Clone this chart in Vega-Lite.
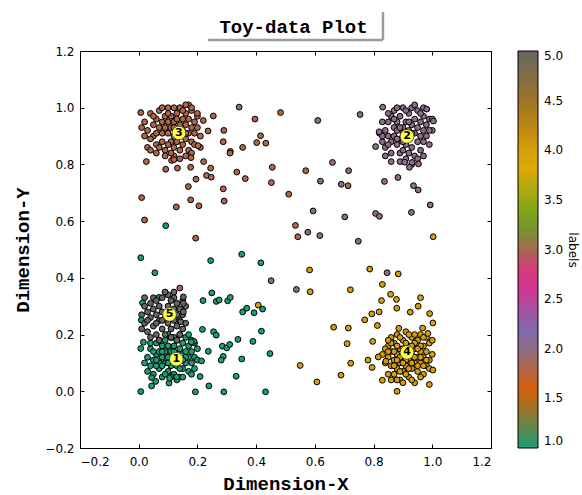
{
  "$schema": "https://vega.github.io/schema/vega-lite/v6.json",
  "width": 411,
  "height": 397,
  "autosize": "none",
  "padding": {"left": 80, "top": 51, "right": 91, "bottom": 47},
  "background": "white",
  "title": {"text": "Toy-data Plot", "font": "Liberation Mono", "fontSize": 19, "fontWeight": "bold", "color": "black", "anchor": "middle", "offset": -26, "dx": 8},
  "config": {
    "view": {"stroke": "black", "strokeWidth": 1},
    "axis": {"grid": false, "domain": false, "tickColor": "black", "tickSize": -4, "tickWidth": 1, "labelFont": "DejaVu Sans", "labelFontSize": 12, "labelColor": "black", "titleFont": "Liberation Mono", "titleFontSize": 19, "titleFontWeight": "bold", "titleColor": "black"}
  },
  "datasets": {
    "pts": [
      {"x":0.02,"y":0.95,"c":1.8},{"x":0.03,"y":0.92,"c":1.8},{"x":0.04,"y":0.98,"c":1.8},{"x":0.05,"y":0.94,"c":1.8},{"x":0.05,"y":0.90,"c":1.8},{"x":0.06,"y":0.96,"c":1.8},{"x":0.06,"y":0.87,"c":1.8},{"x":0.07,"y":0.93,"c":1.8},{"x":0.07,"y":0.99,"c":1.8},{"x":0.08,"y":0.91,"c":1.8},{"x":0.08,"y":0.95,"c":1.8},{"x":0.08,"y":0.88,"c":1.8},{"x":0.09,"y":0.97,"c":1.8},{"x":0.09,"y":0.93,"c":1.8},{"x":0.09,"y":0.85,"c":1.8},{"x":0.10,"y":0.91,"c":1.8},{"x":0.10,"y":0.95,"c":1.8},{"x":0.10,"y":1.00,"c":1.8},{"x":0.11,"y":0.88,"c":1.8},{"x":0.11,"y":0.93,"c":1.8},{"x":0.11,"y":0.97,"c":1.8},{"x":0.12,"y":0.90,"c":1.8},{"x":0.12,"y":0.95,"c":1.8},{"x":0.12,"y":0.86,"c":1.8},{"x":0.13,"y":0.98,"c":1.8},{"x":0.13,"y":0.92,"c":1.8},{"x":0.13,"y":0.88,"c":1.8},{"x":0.14,"y":0.94,"c":1.8},{"x":0.14,"y":0.90,"c":1.8},{"x":0.14,"y":1.00,"c":1.8},{"x":0.15,"y":0.96,"c":1.8},{"x":0.15,"y":0.87,"c":1.8},{"x":0.15,"y":0.92,"c":1.8},{"x":0.16,"y":0.98,"c":1.8},{"x":0.16,"y":0.94,"c":1.8},{"x":0.16,"y":0.89,"c":1.8},{"x":0.17,"y":0.96,"c":1.8},{"x":0.17,"y":0.91,"c":1.8},{"x":0.17,"y":1.01,"c":1.8},{"x":0.18,"y":0.93,"c":1.8},{"x":0.18,"y":0.88,"c":1.8},{"x":0.18,"y":0.99,"c":1.8},{"x":0.19,"y":0.95,"c":1.8},{"x":0.19,"y":0.91,"c":1.8},{"x":0.20,"y":0.97,"c":1.8},{"x":0.20,"y":0.93,"c":1.8},{"x":0.16,"y":1.01,"c":1.8},{"x":0.12,"y":1.00,"c":1.8},{"x":0.10,"y":0.98,"c":1.8},{"x":0.04,"y":0.89,"c":1.8},{"x":0.03,"y":0.86,"c":1.8},{"x":0.06,"y":0.84,"c":1.8},{"x":0.09,"y":0.83,"c":1.8},{"x":0.12,"y":0.83,"c":1.8},{"x":0.14,"y":0.85,"c":1.8},{"x":0.17,"y":0.85,"c":1.8},{"x":0.19,"y":0.87,"c":1.8},{"x":0.21,"y":0.90,"c":1.8},{"x":0.11,"y":0.84,"c":1.8},{"x":0.07,"y":0.86,"c":1.8},{"x":0.05,"y":0.97,"c":1.8},{"x":0.15,"y":0.99,"c":1.8},{"x":0.13,"y":0.96,"c":1.8},{"x":0.08,"y":1.00,"c":1.8},{"x":0.18,"y":1.00,"c":1.8},{"x":0.20,"y":0.98,"c":1.8},{"x":0.02,"y":0.90,"c":1.8},{"x":0.01,"y":0.93,"c":1.8},{"x":0.04,"y":0.85,"c":1.8},{"x":0.10,"y":0.87,"c":1.8},{"x":0.16,"y":0.83,"c":1.8},{"x":0.18,"y":0.84,"c":1.8},{"x":0.14,"y":0.82,"c":1.8},{"x":0.21,"y":0.86,"c":1.8},{"x":0.06,"y":0.91,"c":1.8},{"x":0.12,"y":0.93,"c":1.8},{"x":0.16,"y":0.91,"c":1.8},
      {"x":0.007,"y":0.983,"c":1.8},{"x":0.026,"y":0.810,"c":1.8},{"x":0.112,"y":0.814,"c":1.8},{"x":0.120,"y":0.817,"c":1.8},{"x":0.092,"y":0.783,"c":1.8},{"x":0.132,"y":0.787,"c":1.8},{"x":0.178,"y":0.824,"c":1.8},{"x":0.177,"y":0.790,"c":1.8},{"x":0.195,"y":0.748,"c":1.8},{"x":0.169,"y":0.722,"c":1.8},{"x":0.236,"y":0.918,"c":1.8},{"x":0.254,"y":0.971,"c":1.8},{"x":0.220,"y":0.955,"c":1.8},{"x":0.290,"y":0.920,"c":1.8},{"x":0.288,"y":0.880,"c":1.8},{"x":0.202,"y":0.866,"c":1.8},{"x":0.221,"y":0.810,"c":1.8},{"x":0.245,"y":0.787,"c":1.8},{"x":0.231,"y":0.761,"c":1.8},{"x":0.247,"y":0.755,"c":1.8},{"x":0.177,"y":0.675,"c":1.8},{"x":0.205,"y":0.654,"c":1.8},{"x":0.288,"y":0.714,"c":1.8},{"x":0.291,"y":0.671,"c":1.8},{"x":0.194,"y":0.540,"c":1.8},{"x":0.312,"y":0.846,"c":1.8},{"x":0.311,"y":0.840,"c":1.8},{"x":0.354,"y":0.860,"c":1.8},{"x":0.334,"y":0.773,"c":1.8},{"x":0.363,"y":0.750,"c":1.8},{"x":0.396,"y":0.960,"c":1.8},{"x":0.415,"y":0.901,"c":1.8},{"x":0.402,"y":0.877,"c":1.8},{"x":0.433,"y":0.875,"c":1.8},{"x":0.483,"y":0.983,"c":1.8},{"x":0.455,"y":0.790,"c":1.8},{"x":0.452,"y":0.736,"c":1.8},{"x":0.511,"y":0.695,"c":1.8},{"x":0.569,"y":0.778,"c":1.8},{"x":0.713,"y":0.725,"c":1.8},{"x":0.534,"y":0.585,"c":1.8},{"x":0.542,"y":0.545,"c":1.8},{"x":0.010,"y":0.683,"c":1.8},{"x":0.128,"y":0.650,"c":1.8},{"x":0.020,"y":0.604,"c":1.8},{"x":0.140,"y":0.364,"c":1.8},
      {"x":0.83,"y":0.88,"c":2},{"x":0.84,"y":0.92,"c":2},{"x":0.84,"y":0.86,"c":2},{"x":0.85,"y":0.95,"c":2},{"x":0.85,"y":0.90,"c":2},{"x":0.86,"y":0.88,"c":2},{"x":0.86,"y":0.97,"c":2},{"x":0.86,"y":0.84,"c":2},{"x":0.87,"y":0.93,"c":2},{"x":0.87,"y":0.90,"c":2},{"x":0.87,"y":0.99,"c":2},{"x":0.88,"y":0.87,"c":2},{"x":0.88,"y":0.95,"c":2},{"x":0.88,"y":0.92,"c":2},{"x":0.89,"y":0.89,"c":2},{"x":0.89,"y":0.97,"c":2},{"x":0.89,"y":0.84,"c":2},{"x":0.90,"y":0.93,"c":2},{"x":0.90,"y":0.91,"c":2},{"x":0.90,"y":1.00,"c":2},{"x":0.91,"y":0.87,"c":2},{"x":0.91,"y":0.95,"c":2},{"x":0.91,"y":0.82,"c":2},{"x":0.92,"y":0.92,"c":2},{"x":0.92,"y":0.98,"c":2},{"x":0.92,"y":0.89,"c":2},{"x":0.93,"y":0.94,"c":2},{"x":0.93,"y":0.86,"c":2},{"x":0.93,"y":1.00,"c":2},{"x":0.94,"y":0.91,"c":2},{"x":0.94,"y":0.96,"c":2},{"x":0.94,"y":0.83,"c":2},{"x":0.95,"y":0.88,"c":2},{"x":0.95,"y":0.93,"c":2},{"x":0.95,"y":0.99,"c":2},{"x":0.96,"y":0.90,"c":2},{"x":0.96,"y":0.95,"c":2},{"x":0.96,"y":0.85,"c":2},{"x":0.97,"y":0.92,"c":2},{"x":0.97,"y":0.97,"c":2},{"x":0.97,"y":0.88,"c":2},{"x":0.98,"y":0.94,"c":2},{"x":0.98,"y":0.90,"c":2},{"x":0.99,"y":0.96,"c":2},{"x":0.99,"y":0.87,"c":2},{"x":1.00,"y":0.92,"c":2},{"x":0.82,"y":0.91,"c":2},{"x":0.83,"y":0.95,"c":2},{"x":0.85,"y":0.98,"c":2},{"x":0.88,"y":1.00,"c":2},{"x":0.90,"y":0.85,"c":2},{"x":0.92,"y":0.84,"c":2},{"x":0.95,"y":0.82,"c":2},{"x":0.93,"y":0.80,"c":2},{"x":0.89,"y":0.81,"c":2},{"x":0.86,"y":0.81,"c":2},{"x":0.84,"y":0.83,"c":2},{"x":0.97,"y":0.83,"c":2},{"x":0.99,"y":0.92,"c":2},{"x":1.00,"y":0.96,"c":2},{"x":0.91,"y":0.99,"c":2},{"x":0.94,"y":1.01,"c":2},{"x":0.87,"y":0.96,"c":2},{"x":0.90,"y":0.88,"c":2},{"x":0.92,"y":0.95,"c":2},{"x":0.88,"y":0.89,"c":2},{"x":0.96,"y":0.98,"c":2},{"x":0.85,"y":0.87,"c":2},{"x":0.93,"y":0.91,"c":2},{"x":0.97,"y":1.00,"c":2},{"x":0.89,"y":0.93,"c":2},{"x":0.83,"y":0.90,"c":2},
      {"x":0.831,"y":1.002,"c":2},{"x":0.754,"y":0.976,"c":2},{"x":0.807,"y":0.863,"c":2},{"x":0.837,"y":0.740,"c":2},{"x":0.883,"y":0.754,"c":2},{"x":0.936,"y":0.725,"c":2},{"x":0.906,"y":0.808,"c":2},{"x":0.931,"y":0.807,"c":2},{"x":0.922,"y":0.790,"c":2},{"x":0.953,"y":0.802,"c":2},{"x":1.004,"y":0.953,"c":2},{"x":0.981,"y":0.995,"c":2},{"x":0.952,"y":0.710,"c":2},{"x":0.993,"y":0.657,"c":2},{"x":0.929,"y":0.631,"c":2},{"x":0.819,"y":0.915,"c":2},{"x":0.342,"y":1.002,"c":2},{"x":0.610,"y":0.955,"c":2},{"x":0.660,"y":0.807,"c":2},{"x":0.715,"y":0.778,"c":2},{"x":0.619,"y":0.741,"c":2},{"x":0.690,"y":0.730,"c":2},{"x":0.594,"y":0.636,"c":2},{"x":0.702,"y":0.615,"c":2},{"x":0.807,"y":0.627,"c":2},{"x":0.820,"y":0.617,"c":2},{"x":0.576,"y":0.561,"c":2},{"x":0.617,"y":0.549,"c":2},{"x":0.748,"y":0.529,"c":2},{"x":0.451,"y":0.390,"c":2},{"x":0.537,"y":0.359,"c":2},{"x":0.846,"y":0.418,"c":2},
      {"x":0.85,"y":0.12,"c":4},{"x":0.85,"y":0.16,"c":4},{"x":0.86,"y":0.09,"c":4},{"x":0.86,"y":0.14,"c":4},{"x":0.86,"y":0.19,"c":4},{"x":0.87,"y":0.11,"c":4},{"x":0.87,"y":0.06,"c":4},{"x":0.87,"y":0.17,"c":4},{"x":0.88,"y":0.13,"c":4},{"x":0.88,"y":0.08,"c":4},{"x":0.88,"y":0.20,"c":4},{"x":0.89,"y":0.15,"c":4},{"x":0.89,"y":0.10,"c":4},{"x":0.89,"y":0.04,"c":4},{"x":0.90,"y":0.12,"c":4},{"x":0.90,"y":0.18,"c":4},{"x":0.90,"y":0.07,"c":4},{"x":0.91,"y":0.14,"c":4},{"x":0.91,"y":0.09,"c":4},{"x":0.91,"y":0.21,"c":4},{"x":0.92,"y":0.11,"c":4},{"x":0.92,"y":0.16,"c":4},{"x":0.92,"y":0.05,"c":4},{"x":0.93,"y":0.13,"c":4},{"x":0.93,"y":0.19,"c":4},{"x":0.93,"y":0.08,"c":4},{"x":0.94,"y":0.10,"c":4},{"x":0.94,"y":0.15,"c":4},{"x":0.94,"y":0.03,"c":4},{"x":0.95,"y":0.12,"c":4},{"x":0.95,"y":0.18,"c":4},{"x":0.95,"y":0.07,"c":4},{"x":0.96,"y":0.14,"c":4},{"x":0.96,"y":0.10,"c":4},{"x":0.96,"y":0.20,"c":4},{"x":0.97,"y":0.12,"c":4},{"x":0.97,"y":0.16,"c":4},{"x":0.97,"y":0.06,"c":4},{"x":0.98,"y":0.09,"c":4},{"x":0.98,"y":0.14,"c":4},{"x":0.99,"y":0.11,"c":4},{"x":0.99,"y":0.17,"c":4},{"x":1.00,"y":0.13,"c":4},{"x":0.84,"y":0.10,"c":4},{"x":0.84,"y":0.15,"c":4},{"x":0.85,"y":0.06,"c":4},{"x":0.87,"y":0.14,"c":4},{"x":0.88,"y":0.16,"c":4},{"x":0.89,"y":0.12,"c":4},{"x":0.90,"y":0.15,"c":4},{"x":0.91,"y":0.11,"c":4},{"x":0.92,"y":0.13,"c":4},{"x":0.93,"y":0.10,"c":4},{"x":0.94,"y":0.17,"c":4},{"x":0.95,"y":0.09,"c":4},{"x":0.96,"y":0.16,"c":4},{"x":0.97,"y":0.09,"c":4},{"x":0.90,"y":0.03,"c":4},{"x":0.88,"y":0.04,"c":4},{"x":0.93,"y":0.04,"c":4},{"x":0.86,"y":0.04,"c":4},{"x":0.99,"y":0.08,"c":4},{"x":1.00,"y":0.18,"c":4},{"x":0.98,"y":0.19,"c":4},{"x":0.92,"y":0.20,"c":4},{"x":0.89,"y":0.19,"c":4},{"x":0.86,"y":0.17,"c":4},{"x":0.94,"y":0.20,"c":4},{"x":0.96,"y":0.05,"c":4},{"x":0.91,"y":0.06,"c":4},{"x":0.87,"y":0.09,"c":4},{"x":0.83,"y":0.13,"c":4},{"x":0.85,"y":0.18,"c":4},{"x":0.90,"y":0.10,"c":4},{"x":0.92,"y":0.08,"c":4},{"x":0.95,"y":0.15,"c":4},{"x":0.97,"y":0.19,"c":4},{"x":0.98,"y":0.11,"c":4},{"x":0.93,"y":0.16,"c":4},{"x":0.88,"y":0.11,"c":4},{"x":0.91,"y":0.17,"c":4},{"x":0.94,"y":0.12,"c":4},{"x":0.89,"y":0.07,"c":4},{"x":0.96,"y":0.12,"c":4},{"x":0.85,"y":0.14,"c":4},
      {"x":0.407,"y":0.304,"c":4},{"x":0.582,"y":0.428,"c":4},{"x":0.584,"y":0.351,"c":4},{"x":0.721,"y":0.358,"c":4},{"x":0.787,"y":0.431,"c":4},{"x":0.884,"y":0.414,"c":4},{"x":0.830,"y":0.377,"c":4},{"x":0.858,"y":0.342,"c":4},{"x":0.827,"y":0.320,"c":4},{"x":0.878,"y":0.324,"c":4},{"x":0.819,"y":0.280,"c":4},{"x":0.794,"y":0.273,"c":4},{"x":0.770,"y":0.252,"c":4},{"x":0.813,"y":0.232,"c":4},{"x":0.879,"y":0.293,"c":4},{"x":0.664,"y":0.226,"c":4},{"x":0.714,"y":0.223,"c":4},{"x":0.710,"y":0.168,"c":4},{"x":0.797,"y":0.176,"c":4},{"x":0.781,"y":0.110,"c":4},{"x":0.795,"y":0.084,"c":4},{"x":0.722,"y":0.099,"c":4},{"x":0.550,"y":0.091,"c":4},{"x":0.689,"y":0.057,"c":4},{"x":0.607,"y":0.033,"c":4},{"x":0.830,"y":0.039,"c":4},{"x":0.816,"y":0.121,"c":4},{"x":0.842,"y":0.106,"c":4},{"x":0.960,"y":0.330,"c":4},{"x":0.952,"y":0.300,"c":4},{"x":0.991,"y":0.274,"c":4},{"x":1.002,"y":0.241,"c":4},{"x":0.925,"y":0.279,"c":4},{"x":0.886,"y":0.222,"c":4},{"x":0.967,"y":0.223,"c":4},{"x":0.985,"y":0.204,"c":4},{"x":1.002,"y":0.075,"c":4},{"x":0.990,"y":0.024,"c":4},{"x":0.880,"y":0.000,"c":4},{"x":1.003,"y":0.545,"c":4},
      {"x":0.03,"y":0.12,"c":1},{"x":0.04,"y":0.09,"c":1},{"x":0.04,"y":0.15,"c":1},{"x":0.05,"y":0.11,"c":1},{"x":0.05,"y":0.06,"c":1},{"x":0.06,"y":0.13,"c":1},{"x":0.06,"y":0.17,"c":1},{"x":0.07,"y":0.10,"c":1},{"x":0.07,"y":0.08,"c":1},{"x":0.07,"y":0.14,"c":1},{"x":0.08,"y":0.12,"c":1},{"x":0.08,"y":0.16,"c":1},{"x":0.08,"y":0.05,"c":1},{"x":0.09,"y":0.10,"c":1},{"x":0.09,"y":0.14,"c":1},{"x":0.09,"y":0.18,"c":1},{"x":0.10,"y":0.07,"c":1},{"x":0.10,"y":0.12,"c":1},{"x":0.10,"y":0.16,"c":1},{"x":0.11,"y":0.09,"c":1},{"x":0.11,"y":0.14,"c":1},{"x":0.11,"y":0.19,"c":1},{"x":0.12,"y":0.11,"c":1},{"x":0.12,"y":0.06,"c":1},{"x":0.12,"y":0.16,"c":1},{"x":0.13,"y":0.13,"c":1},{"x":0.13,"y":0.09,"c":1},{"x":0.13,"y":0.18,"c":1},{"x":0.14,"y":0.11,"c":1},{"x":0.14,"y":0.15,"c":1},{"x":0.14,"y":0.05,"c":1},{"x":0.15,"y":0.13,"c":1},{"x":0.15,"y":0.08,"c":1},{"x":0.15,"y":0.17,"c":1},{"x":0.16,"y":0.10,"c":1},{"x":0.16,"y":0.14,"c":1},{"x":0.16,"y":0.19,"c":1},{"x":0.17,"y":0.12,"c":1},{"x":0.17,"y":0.07,"c":1},{"x":0.17,"y":0.16,"c":1},{"x":0.18,"y":0.10,"c":1},{"x":0.18,"y":0.14,"c":1},{"x":0.19,"y":0.12,"c":1},{"x":0.19,"y":0.17,"c":1},{"x":0.20,"y":0.15,"c":1},{"x":0.06,"y":0.09,"c":1},{"x":0.05,"y":0.14,"c":1},{"x":0.09,"y":0.06,"c":1},{"x":0.11,"y":0.05,"c":1},{"x":0.13,"y":0.04,"c":1},{"x":0.15,"y":0.05,"c":1},{"x":0.18,"y":0.06,"c":1},{"x":0.19,"y":0.08,"c":1},{"x":0.20,"y":0.11,"c":1},{"x":0.07,"y":0.18,"c":1},{"x":0.10,"y":0.20,"c":1},{"x":0.14,"y":0.20,"c":1},{"x":0.17,"y":0.20,"c":1},{"x":0.04,"y":0.17,"c":1},{"x":0.03,"y":0.07,"c":1},{"x":0.08,"y":0.09,"c":1},{"x":0.12,"y":0.14,"c":1},{"x":0.16,"y":0.12,"c":1},{"x":0.10,"y":0.10,"c":1},{"x":0.14,"y":0.08,"c":1},{"x":0.06,"y":0.11,"c":1},{"x":0.18,"y":0.18,"c":1},{"x":0.02,"y":0.10,"c":1},{"x":0.12,"y":0.19,"c":1},{"x":0.08,"y":0.14,"c":1},{"x":0.15,"y":0.11,"c":1},
      {"x":0.013,"y":0.312,"c":1},{"x":0.009,"y":0.251,"c":1},{"x":0.016,"y":0.173,"c":1},{"x":0.007,"y":0.151,"c":1},{"x":0.069,"y":0.331,"c":1},{"x":0.351,"y":0.483,"c":1},{"x":0.245,"y":0.461,"c":1},{"x":0.416,"y":0.453,"c":1},{"x":0.249,"y":0.347,"c":1},{"x":0.219,"y":0.320,"c":1},{"x":0.264,"y":0.317,"c":1},{"x":0.274,"y":0.322,"c":1},{"x":0.303,"y":0.319,"c":1},{"x":0.312,"y":0.331,"c":1},{"x":0.354,"y":0.280,"c":1},{"x":0.368,"y":0.293,"c":1},{"x":0.393,"y":0.277,"c":1},{"x":0.422,"y":0.290,"c":1},{"x":0.217,"y":0.218,"c":1},{"x":0.255,"y":0.210,"c":1},{"x":0.264,"y":0.198,"c":1},{"x":0.418,"y":0.212,"c":1},{"x":0.338,"y":0.183,"c":1},{"x":0.389,"y":0.176,"c":1},{"x":0.285,"y":0.159,"c":1},{"x":0.300,"y":0.153,"c":1},{"x":0.310,"y":0.165,"c":1},{"x":0.237,"y":0.141,"c":1},{"x":0.288,"y":0.123,"c":1},{"x":0.281,"y":0.110,"c":1},{"x":0.351,"y":0.114,"c":1},{"x":0.447,"y":0.133,"c":1},{"x":0.214,"y":0.107,"c":1},{"x":0.188,"y":0.176,"c":1},{"x":0.179,"y":0.174,"c":1},{"x":0.332,"y":0.053,"c":1},{"x":0.239,"y":0.019,"c":1},{"x":0.193,"y":-0.002,"c":1},{"x":0.290,"y":-0.002,"c":1},{"x":0.432,"y":-0.002,"c":1},{"x":0.092,"y":0.584,"c":1},{"x":0.007,"y":0.471,"c":1},{"x":0.055,"y":0.418,"c":1},{"x":0.007,"y":-0.001,"c":1},{"x":0.044,"y":0.019,"c":1},{"x":0.058,"y":0.035,"c":1},{"x":0.044,"y":0.048,"c":1},{"x":0.103,"y":0.029,"c":1},{"x":0.105,"y":0.046,"c":1},{"x":0.129,"y":0.051,"c":1},{"x":0.209,"y":0.052,"c":1},
      {"x":0.01,"y":0.27,"c":5},{"x":0.02,"y":0.30,"c":5},{"x":0.02,"y":0.24,"c":5},{"x":0.03,"y":0.28,"c":5},{"x":0.03,"y":0.21,"c":5},{"x":0.04,"y":0.26,"c":5},{"x":0.04,"y":0.31,"c":5},{"x":0.05,"y":0.23,"c":5},{"x":0.05,"y":0.29,"c":5},{"x":0.05,"y":0.33,"c":5},{"x":0.06,"y":0.27,"c":5},{"x":0.06,"y":0.20,"c":5},{"x":0.07,"y":0.25,"c":5},{"x":0.07,"y":0.30,"c":5},{"x":0.08,"y":0.22,"c":5},{"x":0.08,"y":0.28,"c":5},{"x":0.08,"y":0.33,"c":5},{"x":0.09,"y":0.26,"c":5},{"x":0.09,"y":0.20,"c":5},{"x":0.10,"y":0.24,"c":5},{"x":0.10,"y":0.30,"c":5},{"x":0.10,"y":0.34,"c":5},{"x":0.11,"y":0.27,"c":5},{"x":0.11,"y":0.22,"c":5},{"x":0.12,"y":0.29,"c":5},{"x":0.12,"y":0.25,"c":5},{"x":0.12,"y":0.33,"c":5},{"x":0.13,"y":0.23,"c":5},{"x":0.13,"y":0.27,"c":5},{"x":0.13,"y":0.31,"c":5},{"x":0.14,"y":0.25,"c":5},{"x":0.14,"y":0.29,"c":5},{"x":0.14,"y":0.20,"c":5},{"x":0.15,"y":0.27,"c":5},{"x":0.15,"y":0.32,"c":5},{"x":0.16,"y":0.24,"c":5},{"x":0.16,"y":0.30,"c":5},{"x":0.04,"y":0.19,"c":5},{"x":0.07,"y":0.18,"c":5},{"x":0.11,"y":0.19,"c":5},{"x":0.13,"y":0.18,"c":5},{"x":0.03,"y":0.25,"c":5},{"x":0.06,"y":0.32,"c":5},{"x":0.09,"y":0.35,"c":5},{"x":0.12,"y":0.35,"c":5},{"x":0.01,"y":0.22,"c":5},{"x":0.08,"y":0.25,"c":5},{"x":0.10,"y":0.28,"c":5},{"x":0.06,"y":0.24,"c":5},{"x":0.15,"y":0.22,"c":5},{"x":0.02,"y":0.33,"c":5},{"x":0.11,"y":0.32,"c":5},{"x":0.152,"y":0.333,"c":5},{"x":0.152,"y":0.310,"c":5},{"x":0.152,"y":0.280,"c":5},{"x":0.143,"y":0.245,"c":5}
    ],
    "centers": [
      {"x":0.128,"y":0.113,"label":"1"},{"x":0.914,"y":0.899,"label":"2"},{"x":0.137,"y":0.911,"label":"3"},{"x":0.914,"y":0.137,"label":"4"},{"x":0.105,"y":0.271,"label":"5"}
    ]
  },
  "layer": [
    {
      "data": {"name": "pts"},
      "mark": {"type": "circle", "size": 34, "opacity": 1, "stroke": "black", "strokeWidth": 1},
      "encoding": {
        "x": {"field": "x", "type": "quantitative", "scale": {"domain": [-0.2, 1.2], "nice": false, "zero": false}, "axis": {"orient": "bottom", "values": [-0.2, 0, 0.2, 0.4, 0.6, 0.8, 1.0, 1.2], "format": ".1f", "title": "Dimension-X", "labelPadding": 12, "titlePadding": 7}},
        "y": {"field": "y", "type": "quantitative", "scale": {"domain": [-0.2, 1.2], "nice": false, "zero": false}, "axis": {"orient": "left", "values": [-0.2, 0, 0.2, 0.4, 0.6, 0.8, 1.0, 1.2], "format": ".1f", "title": "Dimension-Y", "labelPadding": 10, "titlePadding": 12}},
        "color": {"field": "c", "type": "quantitative", "scale": {"type": "linear", "domain": [1, 1.5714, 2.1429, 2.7143, 3.2857, 3.8571, 4.4286, 5], "range": ["#1b9e77", "#d95f02", "#7570b3", "#e7298a", "#66a61e", "#e6ab02", "#a6761d", "#666666"], "interpolate": "rgb"},
          "legend": {"title": "labels", "orient": "right", "direction": "vertical", "gradientLength": 397, "gradientThickness": 20, "values": [1, 1.5, 2, 2.5, 3, 3.5, 4, 4.5, 5], "format": ".1f", "labelFont": "DejaVu Sans", "labelFontSize": 12, "labelColor": "black", "labelOffset": 6, "labelOverlap": false, "gradientStrokeColor": "black", "gradientStrokeWidth": 1, "offset": 26, "padding": 0, "titleOrient": "right", "titleAngle": 270, "titleAnchor": "middle", "titleFont": "DejaVu Sans", "titleFontSize": 12, "titleFontWeight": "normal", "titleColor": "black", "titlePadding": 3}}
      }
    },
    {
      "data": {"name": "centers"},
      "mark": {"type": "circle", "size": 190, "opacity": 1, "fill": "#ffff4d", "stroke": "#333333", "strokeWidth": 0.8},
      "encoding": {
        "x": {"field": "x", "type": "quantitative", "axis": {"orient": "top", "values": [-0.2, 0, 0.2, 0.4, 0.6, 0.8, 1.0, 1.2], "labels": false, "title": null}},
        "y": {"field": "y", "type": "quantitative", "axis": {"orient": "right", "values": [-0.2, 0, 0.2, 0.4, 0.6, 0.8, 1.0, 1.2], "labels": false, "title": null}}
      }
    },
    {
      "data": {"name": "centers"},
      "mark": {"type": "text", "font": "DejaVu Sans", "fontWeight": "bold", "fontSize": 11, "color": "black", "baseline": "middle", "align": "center"},
      "encoding": {
        "x": {"field": "x", "type": "quantitative", "axis": null},
        "y": {"field": "y", "type": "quantitative", "axis": null},
        "text": {"field": "label"}
      }
    },
    {
      "data": {"values": [{}]},
      "mark": {"type": "rule", "color": "#9a9a9a", "strokeWidth": 2.5, "clip": false},
      "encoding": {
        "x": {"datum": 0.236, "type": "quantitative", "axis": null},
        "x2": {"datum": 0.832},
        "y": {"datum": 1.239, "type": "quantitative", "axis": null}
      }
    },
    {
      "data": {"values": [{}]},
      "mark": {"type": "rule", "color": "#9a9a9a", "strokeWidth": 2.5, "clip": false},
      "encoding": {
        "x": {"datum": 0.832, "type": "quantitative", "axis": null},
        "y": {"datum": 1.239, "type": "quantitative", "axis": null},
        "y2": {"datum": 1.337}
      }
    }
  ],
  "resolve": {"axis": {"x": "independent", "y": "independent"}}
}
